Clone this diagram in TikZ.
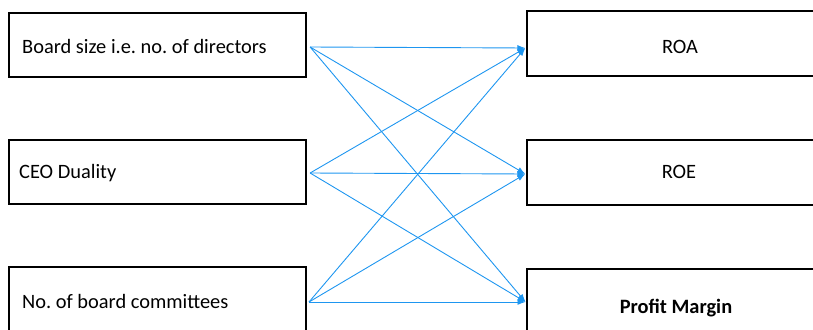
\documentclass[tikz,border=0pt]{standalone}
\usepackage{fontspec}
\setmainfont{Carlito}
\frenchspacing
\usetikzlibrary{arrows.meta}
\definecolor{linkblue}{RGB}{30,150,240}
\begin{document}
\begin{tikzpicture}[x=1pt,y=-1pt,
  box/.style={draw=black,line width=2.2pt,minimum width=297pt,minimum height=64pt,inner sep=0pt},
  rbox/.style={draw=none,minimum width=340pt,minimum height=65pt,inner sep=0pt},
  edge/.style={draw=black,line width=2.2pt},
  lbl/.style={font=\fontsize{20.4}{24}\selectfont,inner sep=0pt},
  link/.style={linkblue,line width=0.9pt,-{Latex[length=8pt,width=6pt]}}]
\useasboundingbox (0,0) rectangle (813,329);
\clip (0,0) rectangle (813,329);
% left boxes
\node[box] (b1) at (157.5,45) {};
\node[box] (b2) at (157.5,172) {};
\node[rbox,minimum width=297pt,minimum height=80pt] (b3) at (157.5,307) {};
\draw[edge] (b3.south west) -- (b3.north west) -- (b3.north east) -- (b3.south east);
% right boxes (open towards the picture's edges)
\node[rbox] (r1) at (697,43.5) {};
\node[rbox] (r2) at (697,172.5) {};
\node[rbox,minimum height=80pt] (r3) at (697,309) {};
\draw[edge] (r1.north east) -- (r1.north west) -- (r1.south west) -- (r1.south east);
\draw[edge] (r2.north east) -- (r2.north west) -- (r2.south west) -- (r2.south east);
\draw[edge] (r3.north east) -- (r3.north west) -- (r3.south west);
% labels
\node[lbl,anchor=west] (t1) at (22,46) {Board size i.e. no. of directors};
\node[lbl,anchor=west] (t2) at (19,173) {CEO Duality};
\node[lbl,anchor=west] (t3) at (22,301) {No. of board committees};
\node[lbl] (t4) at (680,47) {ROA};
\node[lbl] (t5) at (679,172) {ROE};
\node[lbl,font=\fontsize{20.4}{24}\selectfont\bfseries] (t6) at (676,308) {Profit Margin};
% connector ends
\coordinate (s1) at ([xshift=3pt,yshift=-2pt]b1.east);
\coordinate (s2) at ([xshift=3pt,yshift=-1pt]b2.east);
\coordinate (s3) at (309,302);
\coordinate (e1) at ([xshift=-1.5pt,yshift=-4.5pt]r1.west);
\coordinate (e2) at ([xshift=-1.5pt,yshift=-1.5pt]r2.west);
\coordinate (e3) at (525.5,302);
\foreach \s in {1,2,3} {
  \foreach \e in {1,2,3} {
    \draw[link] (s\s) -- (e\e);
  }
}
\end{tikzpicture}
\end{document}
